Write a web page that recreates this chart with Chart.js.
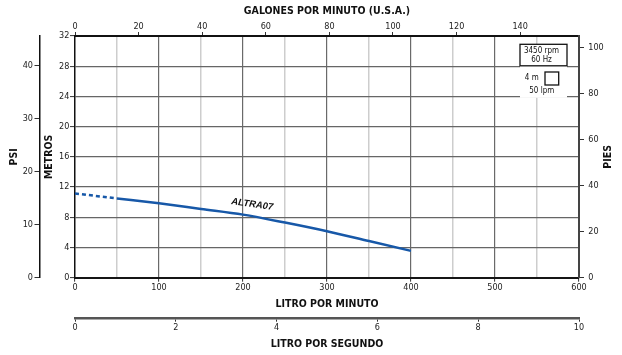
<!DOCTYPE html>
<html><head><meta charset="utf-8">
<script src="https://cdn.jsdelivr.net/npm/chart.js@4/dist/chart.umd.min.js"></script>
<style>html,body{margin:0;padding:0;background:#fff;}canvas{display:block;}</style>
</head><body>
<canvas id="c" width="622" height="355"></canvas>
<script>
// ---- data ----
const FLOW_LPM = [0, 50, 100, 150, 200, 250, 300, 350, 400];
const HEAD_M   = [11.15, 10.5, 9.85, 9.1, 8.35, 7.3, 6.15, 4.85, 3.55];
const DASHED_UNTIL_LPM = 50;
const CURVE_NAME = 'ALTRA07';
const CURVE_LABEL_AT = [211, 9.7]; // LPM, metros

// ---- tick labels ----
const LPM_TICKS = [0, 50, 100, 150, 200, 250, 300, 350, 400, 450, 500, 550, 600];
const GPM_TICKS = [0, 20, 40, 60, 80, 100, 120, 140];
const LPS_TICKS = [0, 2, 4, 6, 8, 10];
const M_TICKS   = [0, 4, 8, 12, 16, 20, 24, 28, 32];
const PSI_TICKS = [0, 10, 20, 30, 40];
const FT_TICKS  = [0, 20, 40, 60, 80, 100];
const NOTE_BOX  = ['3450 rpm', '60 Hz'];
const SCALE_NOTE = ['4 m', '50 lpm'];

const TITLE_GPM = 'GALONES POR MINUTO (U.S.A.)';
const TITLE_LPM = 'LITRO POR MINUTO';
const TITLE_LPS = 'LITRO POR SEGUNDO';
const TITLE_M = 'METROS';
const TITLE_PSI = 'PSI';
const TITLE_FT = 'PIES';

// unit conversions
const LPM_PER_GPM = 3.785411784;
const PSI_PER_M = 1.42197;
const FT_PER_M = 3.28084;
const X_MAX = 600, Y_MAX = 32;

const FONT = "'Liberation Sans Narrow', 'Arial Narrow', 'DejaVu Sans Condensed', sans-serif";
const tickFont = {family: FONT, size: 9};
const titleFont = {family: FONT, size: 10.5, weight: 'bold'};
const setTicks = arr => s => { s.ticks = arr.map(v => ({value: v})); };

const aux = (extra) => Object.assign({
  type: 'linear',
  grid: {drawOnChartArea: false, drawTicks: true, tickLength: 5, tickColor: '#333', tickWidth: 1},
  ticks: {font: tickFont, color: '#222', autoSkip: false, maxRotation: 0, minRotation: 0}
}, extra);

const notePlugin = {
  id: 'note',
  afterDatasetsDraw(chart) {
    const {ctx, chartArea: a, scales} = chart;
    ctx.save();
    const bx = a.right - 59, by = a.top + 8.3, bw = 47, bh = 21.5;
    ctx.fillStyle = '#fff';
    ctx.fillRect(bx, by, bw, 53.5);
    ctx.strokeStyle = '#111'; ctx.lineWidth = 1.3;
    ctx.strokeRect(bx, by, bw, bh);
    ctx.strokeRect(a.right - 34, a.top + 36, 13.7, 13);
    ctx.fillStyle = '#111';
    ctx.font = `8px ${FONT}`;
    ctx.textAlign = 'center'; ctx.textBaseline = 'middle';
    ctx.fillText(NOTE_BOX[0], bx + 21.5, by + 6.4);
    ctx.fillText(NOTE_BOX[1], bx + 21.5, by + 15.4);
    ctx.fillText(SCALE_NOTE[0], a.right - 47.3, a.top + 41.8);
    ctx.fillText(SCALE_NOTE[1], a.right - 37.3, a.top + 55.2);
    // curve name
    const px = scales.x.getPixelForValue(CURVE_LABEL_AT[0]);
    const py = scales.y.getPixelForValue(CURVE_LABEL_AT[1]);
    ctx.translate(px, py);
    ctx.rotate(8 * Math.PI / 180);
    ctx.font = `italic bold 9.5px 'Liberation Sans', Arial, sans-serif`;
    ctx.fillText(CURVE_NAME, 0, 0);
    ctx.restore();
  },
  afterDraw(chart) {
    const {ctx, scales} = chart;
    const s = scales.yFt;
    ctx.save();
    ctx.translate(s.right - 13.7, (chart.chartArea.top + chart.chartArea.bottom) / 2);
    ctx.rotate(-Math.PI / 2);
    ctx.font = `bold 10.5px ${FONT}`;
    ctx.fillStyle = '#111';
    ctx.textAlign = 'center'; ctx.textBaseline = 'middle';
    ctx.fillText(TITLE_FT, 0, 0);
    ctx.restore();
  }
};

new Chart(document.getElementById('c'), {
  type: 'line',
  data: {
    datasets: [{
      data: FLOW_LPM.map((x, i) => ({x, y: HEAD_M[i]})),
      borderColor: '#1758a8',
      borderWidth: 2.5,
      pointRadius: 0,
      tension: 0.3,
      cubicInterpolationMode: 'monotone',
      fill: false,
      segment: {
        borderDash: c => c.p0.parsed.x < DASHED_UNTIL_LPM ? [4, 3] : undefined
      }
    }]
  },
  options: {
    responsive: false,
    devicePixelRatio: 1,
    animation: false,
    layout: {padding: 0},
    plugins: {legend: {display: false}, tooltip: {enabled: false}},
    scales: {
      x: {
        type: 'linear', position: 'bottom', weight: 0, min: 0, max: X_MAX,
        afterBuildTicks: setTicks(LPM_TICKS),
        afterFit: s => { s.height = 41; },
        grid: {
          color: c => (c.tick.value === 0 || c.tick.value === X_MAX) ? 'rgba(0,0,0,0)' : (c.tick.value % 100 === 0 ? '#6a6a6a' : '#cdcdcd'),
          lineWidth: c => c.tick.value % 100 === 0 ? 1.2 : 1.5,
          tickLength: 4,
          tickColor: c => c.tick.value % 100 === 0 ? '#333' : 'rgba(0,0,0,0)',
          tickWidth: 1
        },
        border: {color: '#151515', width: 2},
        ticks: {font: tickFont, color: '#222', padding: 1, autoSkip: false, maxRotation: 0, minRotation: 0,
          callback: v => v % 100 === 0 ? String(v) : ''},
        title: {display: true, text: TITLE_LPM, font: titleFont, color: '#111', padding: {top: 0, bottom: 8.4}}
      },
      xLps: aux({
        position: 'bottom', weight: 1, min: 0, max: X_MAX / 60,
        afterBuildTicks: setTicks(LPS_TICKS),
        afterFit: s => { s.height = 36.3; },
        grid: {drawOnChartArea: false, drawTicks: true, tickLength: 3, tickColor: '#333', tickWidth: 1},
        border: {color: '#555', width: 2.5},
        ticks: {font: tickFont, color: '#222', padding: 1, autoSkip: false, maxRotation: 0, minRotation: 0},
        title: {display: true, text: TITLE_LPS, font: titleFont, color: '#111', padding: {top: 0, bottom: 4.7}}
      }),
      x2: aux({
        position: 'top', weight: 0, min: 0, max: X_MAX / LPM_PER_GPM,
        afterBuildTicks: setTicks(GPM_TICKS),
        afterFit: s => { s.height = 36; },
        grid: {drawOnChartArea: false, drawTicks: true, tickLength: 4, tickColor: '#333', tickWidth: 1},
        border: {color: '#111', width: 2},
        ticks: {font: tickFont, color: '#222', padding: 0, autoSkip: false, maxRotation: 0, minRotation: 0},
        title: {display: true, text: TITLE_GPM, font: titleFont, color: '#111', padding: {top: 5.4, bottom: 0}}
      }),
      y: {
        type: 'linear', position: 'left', weight: 0, min: 0, max: Y_MAX,
        afterBuildTicks: setTicks(M_TICKS),
        afterFit: s => { s.width = 35.5; },
        grid: {
          color: c => (c.tick.value === 0 || c.tick.value === Y_MAX) ? 'rgba(0,0,0,0)' : '#666',
          lineWidth: 1.2, tickLength: 5, tickColor: '#333', tickWidth: 1
        },
        border: {color: '#111', width: 1.5},
        ticks: {font: tickFont, color: '#222', padding: 0.7},
        title: {display: true, text: TITLE_M, font: titleFont, color: '#111', padding: {top: 3.2, bottom: 0}}
      },
      yPsi: aux({
        position: 'left', weight: 1, min: 0, max: Y_MAX * PSI_PER_M,
        afterBuildTicks: setTicks(PSI_TICKS),
        afterFit: s => { s.width = 39.5; },
        border: {color: '#111', width: 1.5},
        ticks: {font: tickFont, color: '#222', padding: 1.5},
        title: {display: true, text: TITLE_PSI, font: titleFont, color: '#111', padding: {top: 7.7, bottom: 0}}
      }),
      yFt: aux({
        position: 'right', weight: 0, min: 0, max: Y_MAX * FT_PER_M,
        afterBuildTicks: setTicks(FT_TICKS),
        afterFit: s => { s.width = 43; },
        border: {color: '#444', width: 2},
        ticks: {font: tickFont, color: '#222', padding: 4.3}
      })
    }
  },
  plugins: [notePlugin]
});
</script>
</body></html>
